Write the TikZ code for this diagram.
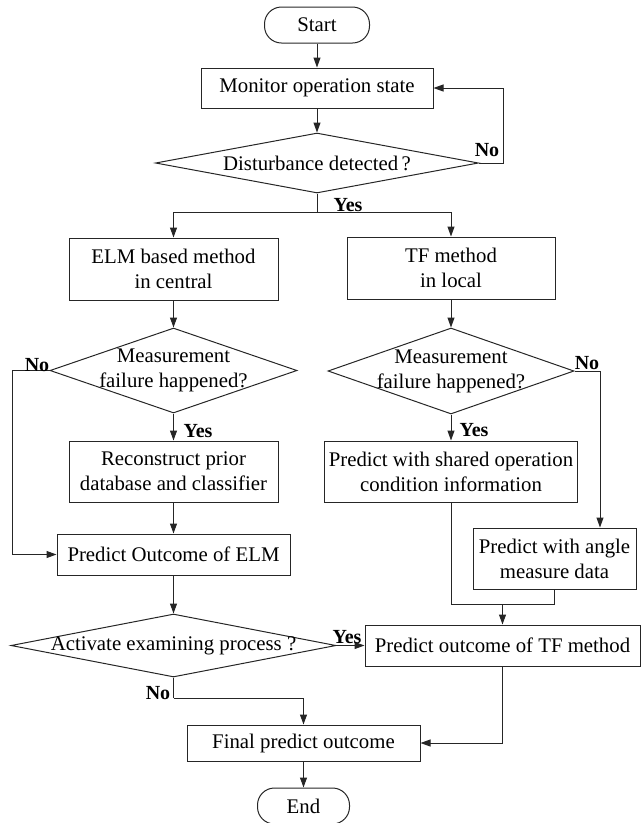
\documentclass[tikz,border=0pt]{standalone}
\usepackage{fontspec}
\setmainfont{Liberation Serif}
\usetikzlibrary{shapes.geometric,arrows.meta,calc}
\begin{document}
\begin{tikzpicture}[x=1pt,y=-1pt,
  every node/.style={font=\fontsize{20.8}{25}\selectfont},
  proc/.style={draw=black!85, line width=1pt, rectangle, inner sep=2pt, align=center},
  term/.style={draw=black!85, line width=1pt, rectangle, rounded corners=17pt, inner sep=2pt, minimum width=105pt, minimum height=36pt},
  decis/.style={draw=black!85, line width=1pt, diamond, inner sep=0pt},
  dtext/.style={align=center, inner sep=0pt},
  lab/.style={font=\fontsize{20}{22}\selectfont\bfseries, inner sep=0pt},
  conn/.style={line width=1pt, draw=black!85},
  arr/.style={conn, -{Triangle[length=10pt,width=7pt]}}
]
\useasboundingbox (0,0) rectangle (641,823);
% nodes
\node[term] (start) at (317,25) {Start};
\node[proc, minimum width=232pt, minimum height=40pt] (monitor) at (317,88) {Monitor operation state};
\node[decis, minimum width=323pt, minimum height=60pt] (dist) at (317,163) {};
\node[dtext] (distt) at (dist.center) {Disturbance detected\,?};
\node[proc, minimum width=209pt, minimum height=62pt] (elm) at (173.5,269) {ELM based method\\in central};
\node[proc, minimum width=208pt, minimum height=62pt] (tf) at (451,268) {TF method\\in local};
\node[decis, minimum width=247pt, minimum height=85pt] (md1) at (173.5,370.5) {};
\node[dtext] (md1t) at (md1.center) {Measurement\\failure happened?};
\node[decis, minimum width=246pt, minimum height=86pt] (md2) at (451,371) {};
\node[dtext] (md2t) at (md2.center) {Measurement\\failure happened?};
\node[proc, minimum width=209pt, minimum height=61pt] (rec) at (173.5,471.5) {Reconstruct prior\\database and classifier};
\node[proc, minimum width=253pt, minimum height=61pt] (shared) at (451,471.5) {Predict with shared operation\\condition information};
\node[proc, minimum width=163pt, minimum height=61pt] (angle) at (554.5,558.5) {Predict with angle\\measure data};
\node[proc, minimum width=233pt, minimum height=41pt] (pelm) at (173.5,554.5) {Predict Outcome of ELM};
\node[decis, minimum width=325pt, minimum height=63pt] (act) at (173.5,645.5) {};
\node[dtext] (actt) at (act.center) {Activate examining process ?};
\node[proc, minimum width=275pt, minimum height=41pt] (tfo) at (502.5,645.5) {Predict outcome of TF method};
\node[proc, minimum width=233pt, minimum height=36pt] (final) at (303.5,743) {Final predict outcome};
\node[term, minimum width=92pt] (end) at (303.5,806) {End};
% helper coordinates
\coordinate (loopc) at (503,163);
\coordinate (split) at (317,212);
\coordinate (noleft) at (12,370.5);
\coordinate (noright) at (600,371);
\coordinate (join) at ($(tfo.north)+(0,-20)$);
\coordinate (actno) at (173.5,698);
% connectors
\draw[arr] (start) -- (monitor);
\draw[arr] (monitor) -- (dist);
\draw[arr] (dist.east) -- (loopc) |- (monitor.east);
\draw[conn] (dist.south) -- (split);
\draw[arr] (split) -| (elm.north);
\draw[arr] (split) -| (tf.north);
\draw[arr] (elm) -- (md1);
\draw[arr] (tf) -- (md2);
\draw[arr] (md1.south) -- (rec.north);
\draw[arr] (md1.west) -- (noleft) |- (pelm.west);
\draw[arr] (rec) -- (pelm);
\draw[arr] (pelm) -- (act);
\draw[arr] (md2.south) -- (shared.north);
\draw[arr] (md2.east) -- (noright) -- (noright |- angle.north);
\draw[conn] (shared.south) |- (join);
\draw[conn] (angle.south) |- (join);
\draw[arr] (join) -- (tfo.north);
\draw[arr] (act.east) -- (tfo.west);
\draw[conn] (act.south) -- (actno);
\draw[arr] (actno) -| (final.north);
\draw[arr] (tfo.south) |- (final.east);
\draw[arr] (final) -- (end);
% labels
\node[lab] (l1) at (487,150) {No};
\node[lab] (l2) at (348,205) {Yes};
\node[lab] (l3) at (37,365) {No};
\node[lab] (l4) at (198,431) {Yes};
\node[lab] (l5) at (587,363) {No};
\node[lab] (l6) at (474,430) {Yes};
\node[lab] (l7) at (347,637) {Yes};
\node[lab] (l8) at (158,693) {No};
\end{tikzpicture}
\end{document}
